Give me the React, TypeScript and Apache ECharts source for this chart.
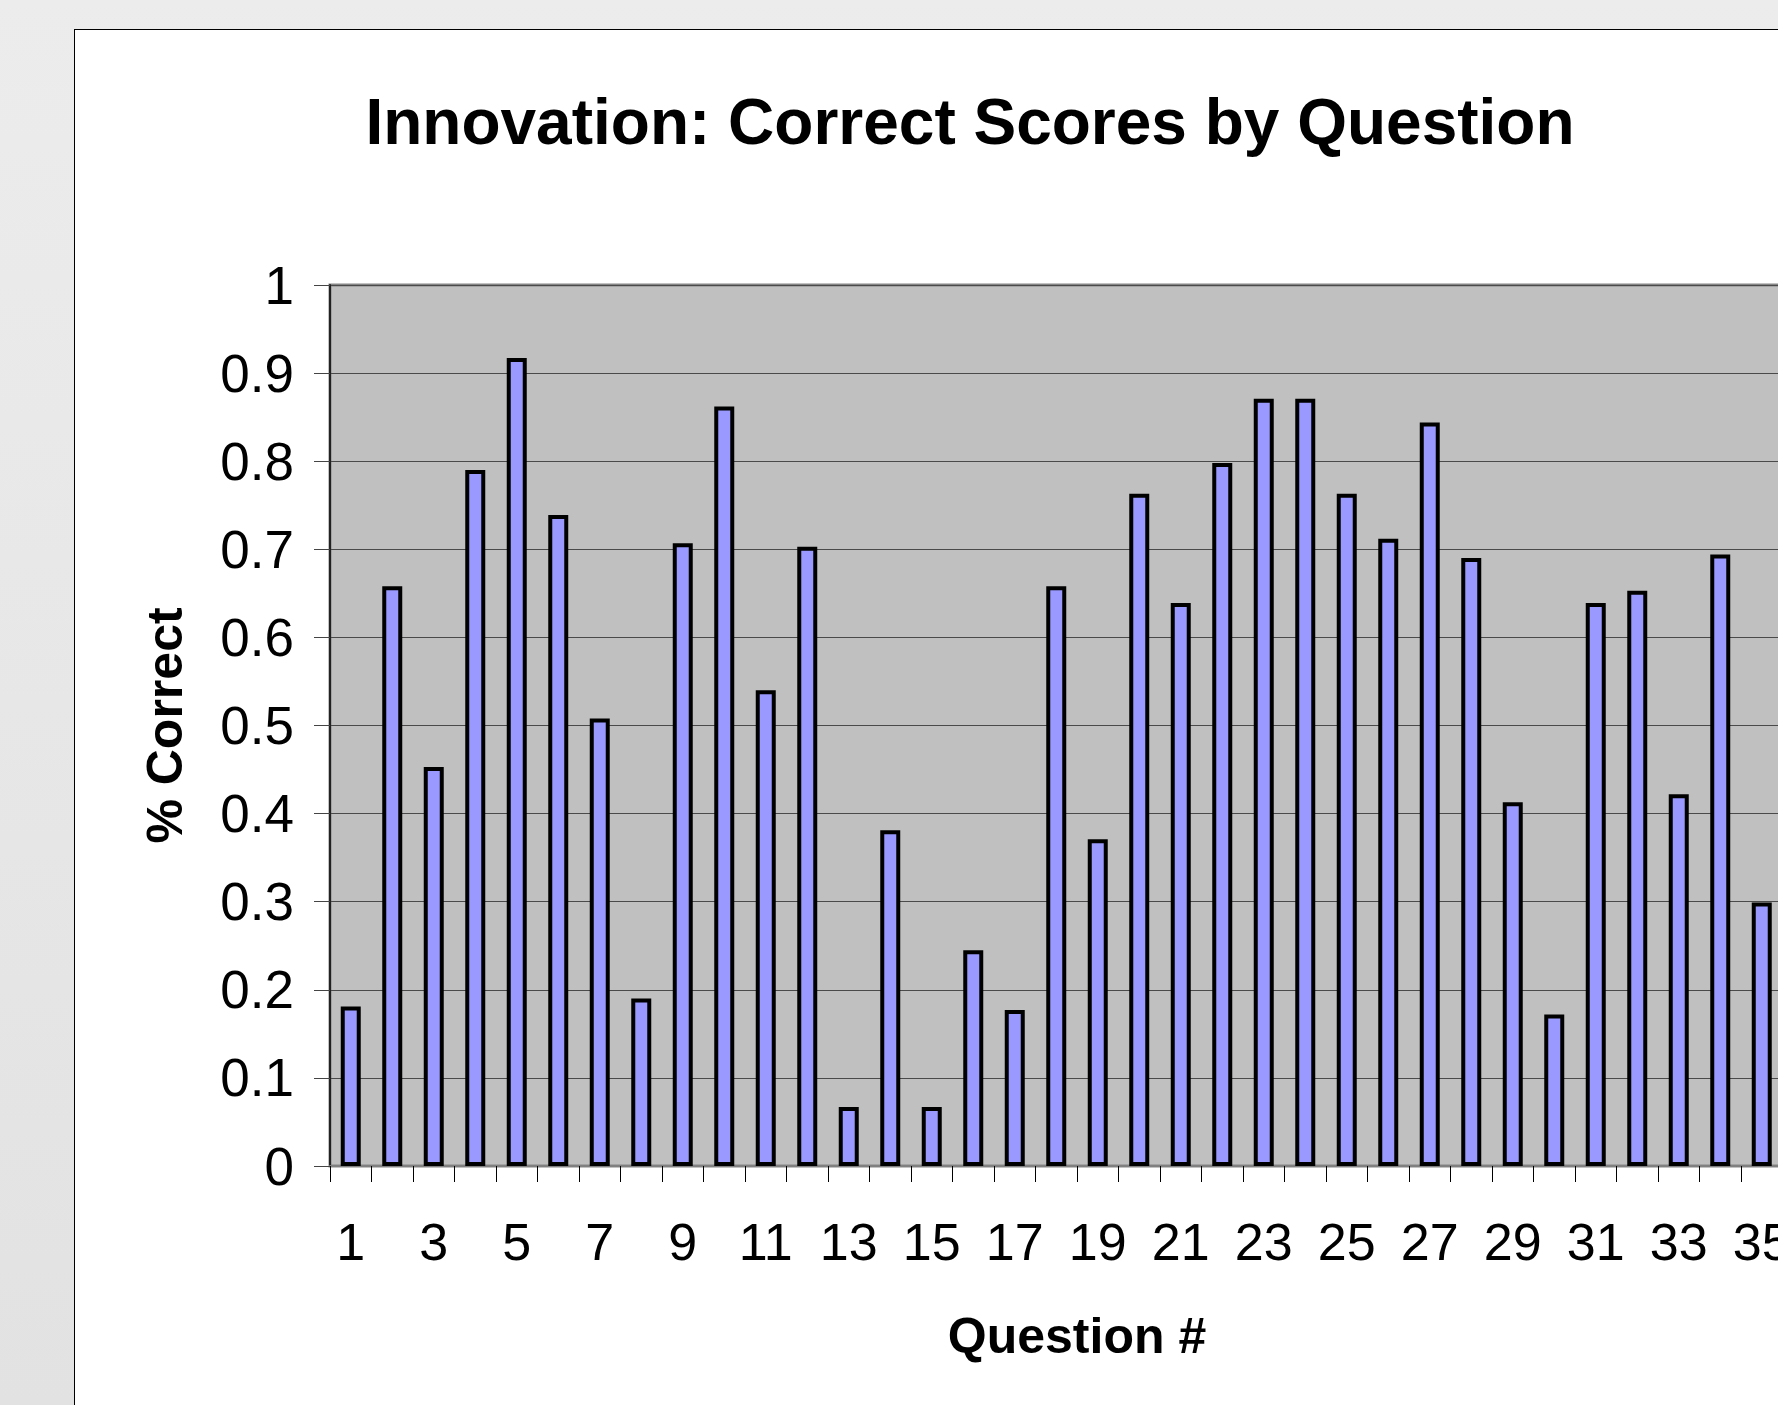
import React, { useEffect, useRef } from 'react';
import * as echarts from 'echarts';

const categories = ['1','2','3','4','5','6','7','8','9','10','11','12','13','14','15','16','17','18','19','20','21','22','23','24','25','26','27','28','29','30','31','32','33','34','35','36'];
const values: (number | null)[] = [0.181, 0.658, 0.453, 0.790, 0.917, 0.739, 0.508, 0.190, 0.707, 0.862, 0.540, 0.703, 0.067, 0.381, 0.067, 0.245, 0.177, 0.658, 0.371, 0.763, 0.639, 0.798, 0.871, 0.871, 0.763, 0.712, 0.844, 0.690, 0.413, 0.172, 0.639, 0.653, 0.422, 0.694, 0.299, null];
const yMin = 0;
const yMax = 1;
const yStep = 0.1;

const titleText = 'Innovation: Correct Scores by Question';
const xName = 'Question #';
const yName = '% Correct';

const FONT = '"Liberation Sans", Arial, sans-serif';

export default function App() {
  const ref = useRef<HTMLDivElement>(null);
  useEffect(() => {
    if (!ref.current) return;
    const chart = echarts.init(ref.current, null, { renderer: 'svg' });
    chart.setOption({
      animation: false,
      backgroundColor: '#ffffff',
      title: {
        text: titleText,
        left: 890,
        top: 55,
        textAlign: 'center',
        textStyle: { fontSize: 64, fontWeight: 'bold', color: '#000', fontFamily: FONT },
      },
      grid: {
        left: 255,
        top: 255,
        width: 1494,
        height: 881,
        show: true,
        backgroundColor: '#c0c0c0',
        borderColor: '#858585',
        borderWidth: 3,
      },
      xAxis: {
        type: 'category',
        data: categories,
        boundaryGap: true,
        name: xName,
        nameLocation: 'middle',
        nameGap: 145,
        nameTextStyle: { fontSize: 50, fontWeight: 'bold', color: '#000', fontFamily: FONT },
        axisLine: { show: true, lineStyle: { color: '#808080', width: 2 } },
        axisTick: { show: true, interval: 0, length: 16, lineStyle: { color: '#000', width: 1 } },
        axisLabel: { interval: 1, fontSize: 52, color: '#000', margin: 50, fontFamily: FONT },
        splitLine: { show: false },
      },
      yAxis: {
        type: 'value',
        min: yMin,
        max: yMax,
        interval: yStep,
        name: yName,
        nameLocation: 'middle',
        nameRotate: 90,
        nameGap: 140,
        nameTextStyle: { fontSize: 50, fontWeight: 'bold', color: '#000', fontFamily: FONT },
        axisLine: { show: true, lineStyle: { color: '#222', width: 2 } },
        axisTick: { show: true, length: 16, lineStyle: { color: '#444', width: 1 } },
        axisLabel: {
          fontSize: 53,
          color: '#000',
          margin: 36,
          fontFamily: FONT,
          formatter: (v: number) => String(Math.round(v * 10) / 10),
        },
        splitLine: { show: true, lineStyle: { color: '#4a4a4a', width: 1 } },
      },
      series: [
        {
          type: 'bar',
          data: values,
          barWidth: 20,
          itemStyle: { color: '#9999ff', borderColor: '#000', borderWidth: 4 },
        },
      ],
    });
    return () => chart.dispose();
  }, []);
  return (
    <div style={{ position: 'fixed', left: 0, top: 0, width: 1778, height: 1405, overflow: 'hidden', background: 'linear-gradient(to bottom, #ececec, #e2e2e2)' }}>
      <div style={{ position: 'absolute', left: 74, top: 29, width: 1900, height: 1500, background: '#fff', borderLeft: '1px solid #000', borderTop: '1px solid #000' }}>
        <div ref={ref} style={{ width: 1900, height: 1500 }} />
      </div>
    </div>
  );
}
